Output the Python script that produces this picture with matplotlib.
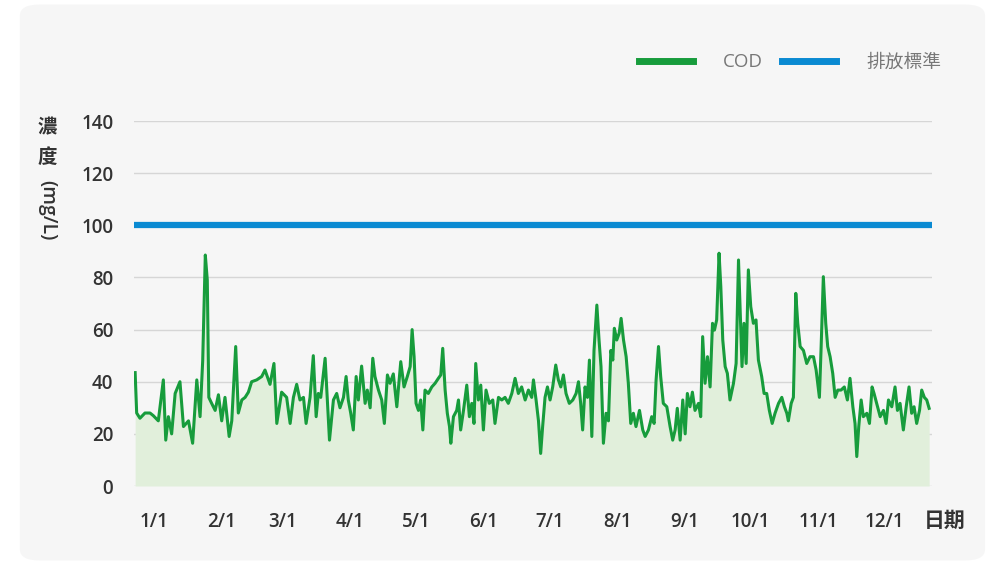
import matplotlib
matplotlib.use("Agg")
import matplotlib.pyplot as plt
from matplotlib.patches import FancyBboxPatch

# ===== 資料 =====
# 日序 (0 = 1/1) 與 COD 濃度 (mg/L)
days = [
    0.5, 1.2, 2.7, 5.0, 7.3, 8.8, 11.1, 13.4, 14.5, 15.7, 17.2, 18.8, 21.0, 22.6,
    24.9, 26.8, 28.7, 30.2, 31.4, 32.6, 33.5, 34.2, 35.5, 37.1, 38.6, 40.1, 41.6,
    43.5, 44.7, 46.5, 47.7, 49.3, 50.8, 52.3, 53.8, 56.1, 58.4, 59.9, 62.2, 64.0,
    65.3, 67.5, 69.8, 71.4, 72.9, 74.4, 75.9, 77.5, 78.7, 80.5, 82.0, 83.3, 84.3,
    85.4, 87.4, 89.4,
    91.2, 92.7, 94.2, 95.8, 97.0, 98.0, 99.1, 100.3, 101.6, 102.6, 104.1, 105.7,
    106.7, 108.0, 109.2, 110.2, 111.8, 113.3, 114.5, 115.9, 117.1, 118.6, 120.2,
    122.0, 123.5, 125.0, 126.3, 127.2, 128.1, 129.0, 130.1, 131.1, 132.1, 133.1,
    134.6, 136.2, 137.7, 139.2, 140.3, 141.2, 142.3, 143.3, 144.3, 144.9, 146.1,
    147.6, 148.4, 149.4, 150.7, 152.2, 153.4, 154.5, 155.5, 156.3, 157.5, 158.6,
    159.8, 161.0, 162.5, 164.1, 165.1, 166.7, 168.2, 169.7, 171.2, 172.8, 174.3,
    175.8, 177.3, 178.9, 180.4, 181.9,
    182.7, 183.9, 185.0, 186.0, 186.9, 188.0, 189.1, 190.3, 191.5, 192.9, 194.1,
    195.2, 196.4, 197.6, 199.1, 200.7, 202.2, 203.3, 204.3, 205.2, 206.3, 207.4,
    208.3, 209.4, 210.4, 211.7, 212.7, 213.6, 214.7, 215.9, 217.0, 218.1, 219.0,
    219.7, 220.8, 221.9, 222.8, 223.9, 225.1, 226.1, 227.2, 228.4, 229.6, 231.2,
    232.7, 233.8, 235.3, 236.8, 237.9, 238.8, 239.9, 240.9, 242.1, 243.7, 245.2,
    246.4, 247.5, 248.5, 249.8, 251.0, 252.1, 253.1, 254.3, 255.4, 256.6, 258.2,
    259.2, 260.1, 261.2, 262.3, 263.5, 264.6, 265.5, 266.5, 267.6, 268.4, 269.3,
    270.4, 271.4, 272.6, 274.2,
    275.4, 276.5, 277.2, 278.1, 279.0, 280.0, 281.0, 282.1, 283.3, 284.5, 285.6,
    287.1, 288.2, 289.4, 290.6, 291.9, 293.2, 294.8, 296.3, 297.5, 298.6, 299.3,
    300.6, 301.6, 302.7, 303.6, 304.7, 306.2, 307.7, 309.2, 310.8, 312.0, 313.5,
    314.3, 315.3, 316.4, 317.3, 318.4, 319.6, 320.7, 321.9, 323.4, 324.9, 326.3,
    327.5, 328.8, 329.8, 330.6, 331.5, 332.6, 333.6, 335.2, 336.4, 337.6, 338.5,
    339.7, 341.3, 342.8, 344.0, 345.1, 346.6, 348.1, 349.2, 350.4, 351.9, 353.2,
    354.5, 355.7, 356.8, 358.0, 359.3, 360.3, 361.5, 362.6, 363.7,
]
cod = [
    43.5, 28, 26, 28, 28, 27, 25, 40.7, 17.6, 26.6, 20, 35.5, 40, 22.8,
    25, 16.4, 40.7, 26.6, 48, 88.6, 79, 34, 31.7, 29, 35, 25, 34,
    19, 25, 53.5, 28, 33, 34, 36, 40, 40.7, 42, 44.5, 39, 47,
    24, 36, 34, 24, 34, 39, 33, 34, 24, 34, 50, 26.6, 35.5,
    34, 49, 17.6,
    33, 35.5, 30, 34, 42, 33, 28, 21.5, 42, 33, 46, 31.7,
    36.8, 30, 49, 42, 36.8, 33, 24, 42.6, 39.4, 43, 30.4,
    47.7, 38, 42, 45.8, 60, 49.6, 31.7, 29, 33, 21.5, 36.8,
    35.5, 38, 39.4, 41.3, 42.6, 52.8, 36.8, 27.9, 22.8, 16.4, 26.6,
    29, 33, 21.5, 29, 38.7, 26.6, 31.7, 24, 47, 33, 38.7,
    21.5, 36.8, 31.7, 33, 24, 34, 33, 34, 31.7, 35.5, 41.3,
    35.5, 38, 33, 36.8, 34,
    40.7, 33, 25, 12.5, 22.8, 34, 38, 33, 38, 46.4, 40.7,
    38, 42.6, 35.5, 31.7, 33, 35.5, 40, 31.7, 21.5, 38, 34,
    48.3, 19, 52, 69.4, 56, 45.8, 16.4, 27.9, 25, 52, 48.3,
    60.5, 56, 58.6, 64.3, 56, 49.6, 39.4, 24, 27.9, 22.8, 29,
    21.5, 19, 21.5, 26.6, 24, 40.7, 53.5, 42, 31.7, 30.4, 22.8,
    17.6, 21.5, 29.8, 17.6, 33, 20, 35.5, 30.4, 36, 29, 31.7,
    26.6, 57.3, 39.4, 49.6, 38, 62.4, 59.8, 63.7, 89.3, 76.5, 56,
    45.8, 43.2, 33, 39.4,
    47, 86.7, 68.8, 45.8, 62.4, 47, 82.9, 68.8, 62.4, 63.7, 48.3,
    42, 35.5, 35.5, 29, 24, 27.9, 31.7, 34, 30.4, 27.9, 25,
    31.7, 34, 73.9, 62.4, 53.5, 52, 47, 49.6, 49.6, 44.5, 34,
    53.5, 80.3, 62.4, 53.5, 49.6, 43.2, 34, 36.8, 36.8, 38, 33,
    41.3, 30.4, 24, 11.3, 22.8, 33, 26.6, 27.9, 24, 38, 35.5,
    31.7, 26.6, 29, 24, 33, 30.4, 38, 29, 31.7, 21.5, 30.4,
    38, 27.9, 30.4, 24, 29, 36.8, 34, 33, 29.8,
]
standard = 100
month_start = [0, 31, 59, 90, 120, 151, 181, 212, 243, 273, 304, 334]
month_labels = ["1/1", "2/1", "3/1", "4/1", "5/1", "6/1",
                "7/1", "8/1", "9/1", "10/1", "11/1", "12/1"]
y_ticks = [0, 20, 40, 60, 80, 100, 120, 140]

# ===== 樣式 =====
FONT = ["Open Sans", "Noto Sans CJK TC", "DejaVu Sans"]
plt.rcParams["font.family"] = FONT
GREEN = "#179c3c"
BLUE = "#0a8ad2"
FILL = "#e1efdb"
DARK = "#333333"

fig = plt.figure(figsize=(9.9, 5.65), dpi=100)
fig.patch.set_facecolor("white")
card = FancyBboxPatch((0.02, 0.008), 0.975, 0.984,
                      boxstyle="round,pad=0,rounding_size=0.02",
                      transform=fig.transFigure, facecolor="#f6f6f6",
                      edgecolor="none", zorder=-10)
fig.patches.append(card)

ax = fig.add_axes([0.1354, 0.1398, 0.806, 0.646])
ax.set_facecolor("none")

ax.fill_between(days, cod, 0, color=FILL, linewidth=0, zorder=1)
ax.plot(days, cod, color=GREEN, linewidth=2.2, zorder=3, label="COD")
ax.axhline(standard, color=BLUE, linewidth=4.5, zorder=4, label="排放標準")

ax.set_xlim(0, 365)
ax.set_ylim(0, 140)
ax.set_yticks(y_ticks)
ax.set_xticks([d + 9 for d in month_start])
ax.set_xticklabels(month_labels)
ax.grid(axis="y", color="#d6d6d6", linewidth=1.0, zorder=0)
ax.set_axisbelow(True)
for s in ax.spines.values():
    s.set_visible(False)
ax.tick_params(axis="both", length=0, colors=DARK, labelsize=13.5)
ax.tick_params(axis="y", pad=15)
ax.tick_params(axis="x", pad=19)
for lab in ax.get_yticklabels() + ax.get_xticklabels():
    lab.set_fontweight("semibold")

ax.text(1.016, -0.096, "日期", transform=ax.transAxes, ha="center",
        va="center", fontsize=15, color=DARK, fontweight="bold")

# 縱軸標題: 直排中文 + 旋轉單位
ax.text(-0.109, 0.981, "濃", transform=ax.transAxes, ha="center", va="center",
        fontsize=14, color=DARK, fontweight="bold")
ax.text(-0.109, 0.899, "度", transform=ax.transAxes, ha="center", va="center",
        fontsize=14, color=DARK, fontweight="bold")
ax.text(-0.109, 0.756, "(mg/L)", transform=ax.transAxes, ha="center",
        va="center", fontsize=14, color=DARK, fontweight="semibold",
        rotation=-90)

leg = ax.legend(loc="lower right", bbox_to_anchor=(1.033, 1.09), ncol=2,
                frameon=False, fontsize=13.5, handlelength=2.9,
                handletextpad=1.6, columnspacing=1.0)
for h in leg.get_lines():
    h.set_linewidth(5)
for t in leg.get_texts():
    t.set_color("#777777")

fig.savefig("out.png", dpi=100, facecolor=fig.get_facecolor())
